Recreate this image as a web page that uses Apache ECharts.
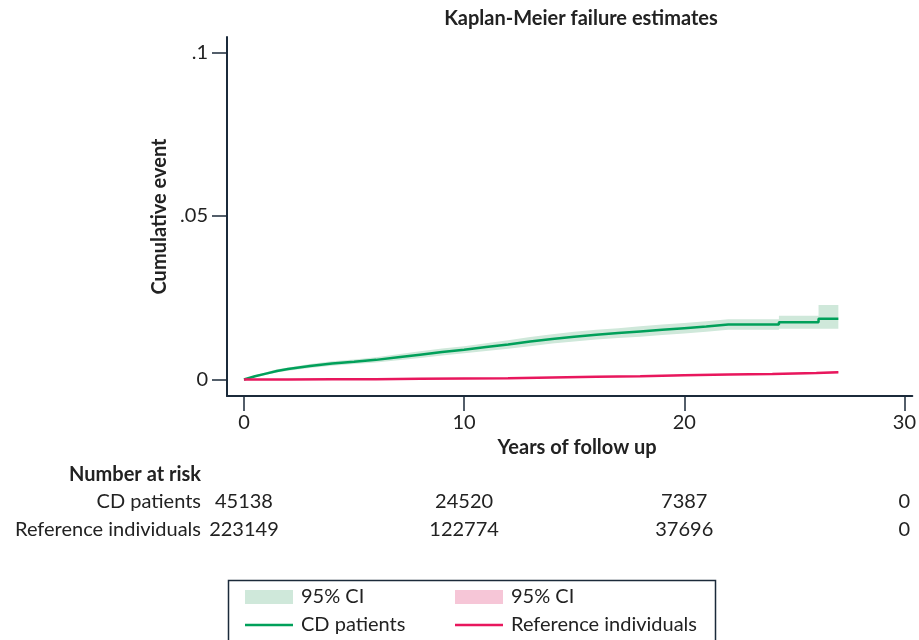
<!DOCTYPE html>
<html><head><meta charset="utf-8">
<script src="https://cdn.jsdelivr.net/npm/echarts@6/dist/echarts.min.js"></script>
<style>html,body{margin:0;padding:0;background:#fff}#c{width:919px;height:640px}</style>
</head><body><div id="c"></div>
<script>
// ---- data ----
const xTicks = [0, 10, 20, 30];
const yTicks = [0, 0.05, 0.1];
const yTickLabels = ['0', '.05', '.1'];

const cdTime = [0,0.5,1,1.5,2,3,4,5,6,7,8,9,10,11,12,13,14,15,16,17,18,19,20,21,22,24.3,24.3,26.1,26.1,27];
const cdEst  = [0,0.0010,0.0018,0.0026,0.0032,0.0041,0.0049,0.0054,0.0060,0.0068,0.0076,0.0084,0.0091,0.0099,0.0107,0.0116,0.0124,0.0131,0.0137,0.0142,0.0147,0.0152,0.0157,0.0162,0.0168,0.0168,0.0175,0.0175,0.0186,0.0186];
const cdLow  = [0,0.0007,0.0014,0.0021,0.0027,0.0035,0.0042,0.0047,0.0052,0.0059,0.0066,0.0073,0.0080,0.0087,0.0094,0.0102,0.0110,0.0116,0.0122,0.0127,0.0131,0.0136,0.0141,0.0146,0.0152,0.0152,0.0155,0.0155,0.0155,0.0155];
const cdHigh = [0,0.0013,0.0022,0.0031,0.0037,0.0047,0.0056,0.0061,0.0068,0.0077,0.0086,0.0095,0.0102,0.0111,0.0120,0.0130,0.0138,0.0146,0.0152,0.0157,0.0163,0.0168,0.0173,0.0178,0.0184,0.0184,0.0195,0.0195,0.0228,0.0228];

const refTime = [0,2,4,6,8,10,12,14,16,18,20,22,24,26,27];
const refEst  = [0,0.0000,0.0001,0.0001,0.0002,0.0003,0.0004,0.0006,0.0008,0.0010,0.0013,0.0015,0.0017,0.0020,0.0022];
const refLow  = [0,0.0000,0.0000,0.0000,0.0001,0.0002,0.0003,0.0005,0.0007,0.0009,0.0011,0.0013,0.0015,0.0017,0.0019];
const refHigh = [0,0.0001,0.0002,0.0002,0.0003,0.0004,0.0005,0.0007,0.0009,0.0011,0.0015,0.0017,0.0019,0.0022,0.0025];

const riskTitle = 'Number at risk';
const riskGroups = ['CD patients', 'Reference individuals'];
const riskCD  = [45138, 24520, 7387, 0];
const riskRef = [223149, 122774, 37696, 0];

// ---- style ----
const FONT = 'Lato';
const FS = 20;
const AX = '#1b2a3a';
const TXT = '#222';
const G = '#00a05a', GCI = '#cfe8da';
const R = '#e8175d', RCI = '#f6c6d7';
const LINE_ICON = 'path://M0,0L0,0M0,5.75H48V8.25H0Z M48,14L48,14';

function band(name, time, low, high, color) {
  return {
    type: 'custom', name, coordinateSystem: 'cartesian2d', z: 1, silent: true,
    itemStyle: { color },
    data: time.map((t, i) => [t, low[i], high[i]]),
    encode: { x: 0, y: [1, 2] },
    renderItem: (params, api) => {
      if (params.dataIndex !== 0) return null;
      const pts = [];
      for (let i = 0; i < time.length; i++) pts.push(api.coord([time[i], high[i]]));
      for (let i = time.length - 1; i >= 0; i--) pts.push(api.coord([time[i], low[i]]));
      return { type: 'polygon', shape: { points: pts }, style: { fill: color } };
    }
  };
}

const chart = echarts.init(document.getElementById('c'), null, { renderer: 'canvas' });
const legendCommon = {
  orient: 'vertical', top: 587, height: 100, padding: 0,
  itemWidth: 48, itemHeight: 14, itemGap: 8,
  selectedMode: false,
  formatter: n => n.indexOf('CI_') === 0 ? '95% CI' : n,
  textStyle: { fontFamily: FONT, fontSize: FS, color: TXT, padding: [0, 0, 0, 3] }
};
chart.setOption({
  animation: false,
  title: {
    text: 'Kaplan-Meier failure estimates', left: 576, top: 4, textAlign: 'center',
    textStyle: { fontFamily: FONT, fontSize: 20, fontWeight: 'bold', color: TXT }
  },
  grid: { left: 227, right: 5, top: 37, bottom: 244 },
  xAxis: {
    type: 'value', min: -0.77, max: 30.36,
    name: 'Years of follow up', nameLocation: 'middle', nameGap: 41,
    nameTextStyle: { fontFamily: FONT, fontSize: FS, fontWeight: 'bold', color: TXT, padding: [0, 0, 0, 15] },
    axisLine: { onZero: false, lineStyle: { color: AX, width: 2 } },
    axisTick: { customValues: xTicks, length: 15, lineStyle: { color: AX, width: 1.5 } },
    axisLabel: { customValues: xTicks, margin: 17, fontFamily: FONT, fontSize: FS, color: TXT },
    splitLine: { show: false }
  },
  yAxis: {
    type: 'value', min: -0.00505, max: 0.10474,
    name: 'Cumulative event', nameLocation: 'middle', nameGap: 46, nameRotate: 90,
    nameTextStyle: { fontFamily: FONT, fontSize: FS, fontWeight: 'bold', color: TXT },
    axisLine: { onZero: false, lineStyle: { color: AX, width: 2 } },
    axisTick: { customValues: yTicks, length: 15, lineStyle: { color: AX, width: 1.5 } },
    axisLabel: {
      customValues: yTicks, margin: 19, fontFamily: FONT, fontSize: FS, color: TXT,
      formatter: v => { const i = yTicks.findIndex(t => Math.abs(t - v) < 1e-9); return i >= 0 ? yTickLabels[i] : ''; }
    },
    splitLine: { show: false }
  },
  legend: [
    Object.assign({ left: 245, data: [{ name: 'CI_CD', icon: 'rect', itemStyle: { color: GCI } }, { name: 'CD patients', icon: LINE_ICON, itemStyle: { color: G } }] }, legendCommon),
    Object.assign({ left: 455, data: [{ name: 'CI_Ref', icon: 'rect', itemStyle: { color: RCI } }, { name: 'Reference individuals', icon: LINE_ICON, itemStyle: { color: R } }] }, legendCommon)
  ],
  series: [
    band('CI_CD', cdTime, cdLow, cdHigh, GCI),
    band('CI_Ref', refTime, refLow, refHigh, RCI),
    { type: 'line', name: 'CD patients', z: 3, symbol: 'none', showSymbol: false,
      data: cdTime.map((t, i) => [t, cdEst[i]]), lineStyle: { color: G, width: 2.5 }, itemStyle: { color: G } },
    { type: 'line', name: 'Reference individuals', z: 3, symbol: 'none', showSymbol: false,
      data: refTime.map((t, i) => [t, refEst[i]]), lineStyle: { color: R, width: 2.5 }, itemStyle: { color: R } }
  ]
});

// risk table and legend frame
const gfx = [];
const tStyle = (extra) => Object.assign({ fontFamily: FONT, fontSize: FS, fill: TXT, textVerticalAlign: 'middle' }, extra);
gfx.push({ type: 'text', x: 201, y: 475, style: tStyle({ text: riskTitle, textAlign: 'right', fontWeight: 'bold' }) });
const rows = [[riskGroups[0], riskCD, 502], [riskGroups[1], riskRef, 530]];
rows.forEach(([lab, vals, y]) => {
  gfx.push({ type: 'text', x: 201, y, style: tStyle({ text: lab, textAlign: 'right' }) });
  vals.forEach((v, i) => {
    const px = chart.convertToPixel({ xAxisIndex: 0 }, xTicks[i]);
    gfx.push({ type: 'text', x: px, y, style: tStyle({ text: String(v), textAlign: 'center' }) });
  });
});
gfx.push({ type: 'rect', shape: { x: 228.5, y: 580.5, width: 487, height: 80 }, style: { fill: 'none', stroke: AX, lineWidth: 1.5 }, z: -1 });
chart.setOption({ graphic: gfx });
</script></body></html>
